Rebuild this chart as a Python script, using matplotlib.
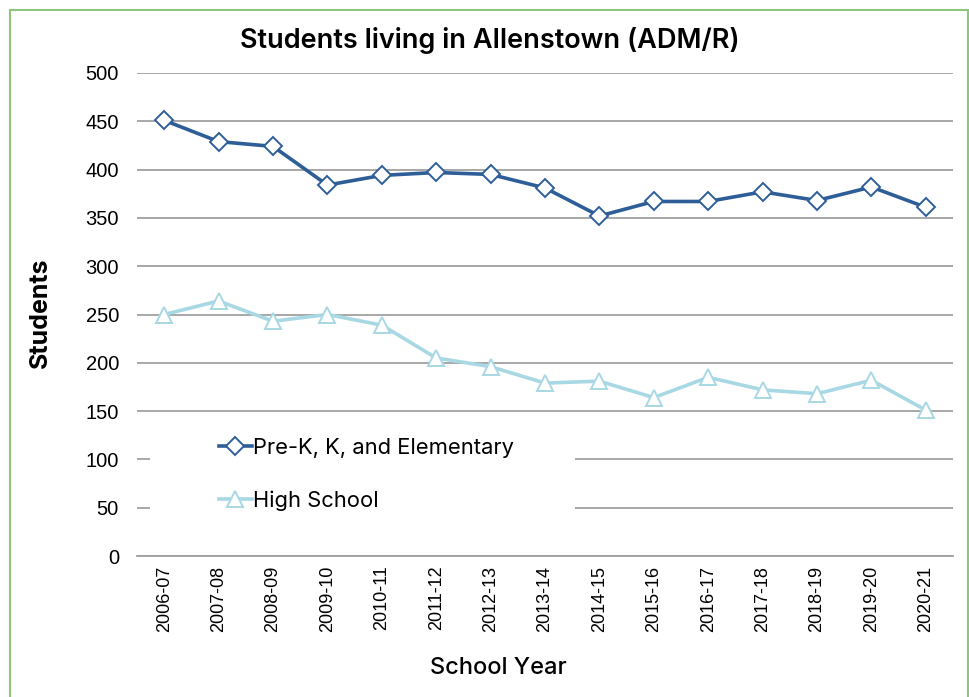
import numpy as np
import matplotlib.pyplot as plt
from matplotlib.patches import Rectangle

years = ['2006-07', '2007-08', '2008-09', '2009-10', '2010-11', '2011-12', '2012-13',
         '2013-14', '2014-15', '2015-16', '2016-17', '2017-18', '2018-19', '2019-20', '2020-21']
elementary = [451, 429, 424, 384, 394, 397, 395, 381, 352, 367, 367, 377, 368, 382, 361]
high_school = [250, 264, 243, 250, 239, 205, 196, 179, 181, 164, 185, 172, 168, 182, 151]

dark_blue = '#2E5E97'
light_blue = '#A8D8E4'
grid_col = '#A0A0A0'

fig = plt.figure(figsize=(9.69, 6.97), dpi=100)
ax = fig.add_axes([137/969, 1-556/697, 816/969, 483/697])

x = np.arange(len(years))
ax.plot(x, elementary, color=dark_blue, lw=2.6, marker='D', ms=9.5, mfc='white',
        mec=dark_blue, mew=1.4, label='Pre-K, K, and Elementary', zorder=4)
ax.plot(x, high_school, color=light_blue, lw=2.6, marker='^', ms=12, mfc='white',
        mec=light_blue, mew=1.4, label='High School', zorder=4)

ax.set_xlim(-0.5, len(years) - 0.5)
ax.set_ylim(0, 500)
ax.set_yticks(range(0, 501, 50))
ax.set_xticks(x)
ax.set_xticklabels(years, rotation=90, fontsize=13, family='Liberation Sans')
for lab in ax.get_yticklabels():
    lab.set_fontsize(14.5)
    lab.set_family('Liberation Sans')
ax.tick_params(length=0, pad=7)
ax.tick_params(axis='y', pad=13)
ax.grid(axis='y', color=grid_col, lw=1.3)
ax.set_axisbelow(True)
for s in ['top', 'right', 'left']:
    ax.spines[s].set_visible(False)
ax.spines['bottom'].set_color(grid_col)
ax.spines['bottom'].set_linewidth(1.3)

# white box behind the legend hides the gridlines
ax.add_patch(Rectangle((13/816, 34/483), 425/816, 104/483, transform=ax.transAxes,
                       facecolor='white', edgecolor='none', zorder=2))
ax.legend(loc='upper left', bbox_to_anchor=(71/816, 129/483), frameon=False,
          handlelength=1.5, handletextpad=0.05, labelspacing=1.48,
          borderpad=0, prop={'family': 'Inter', 'size': 15.8})

fig.text(490/969, 1-40/697, 'Students living in Allenstown (ADM/R)', ha='center', va='center',
         fontsize=19.5, fontweight='semibold', family='Inter')
fig.text(40/969, 1-313/697, 'Students', ha='center', va='center', rotation=90,
         fontsize=18, fontweight='bold', family='Inter')
fig.text(498/969, 1-668/697, 'School Year', ha='center', va='center',
         fontsize=17, fontweight='medium', family='Inter')

# green outer border
fig.patches.append(Rectangle((10/969, -0.05), 958/969, 1.05 - 10/697, transform=fig.transFigure,
                             facecolor='none', edgecolor='#8DC77B', lw=1.5))

fig.savefig('out.png', dpi=100)
